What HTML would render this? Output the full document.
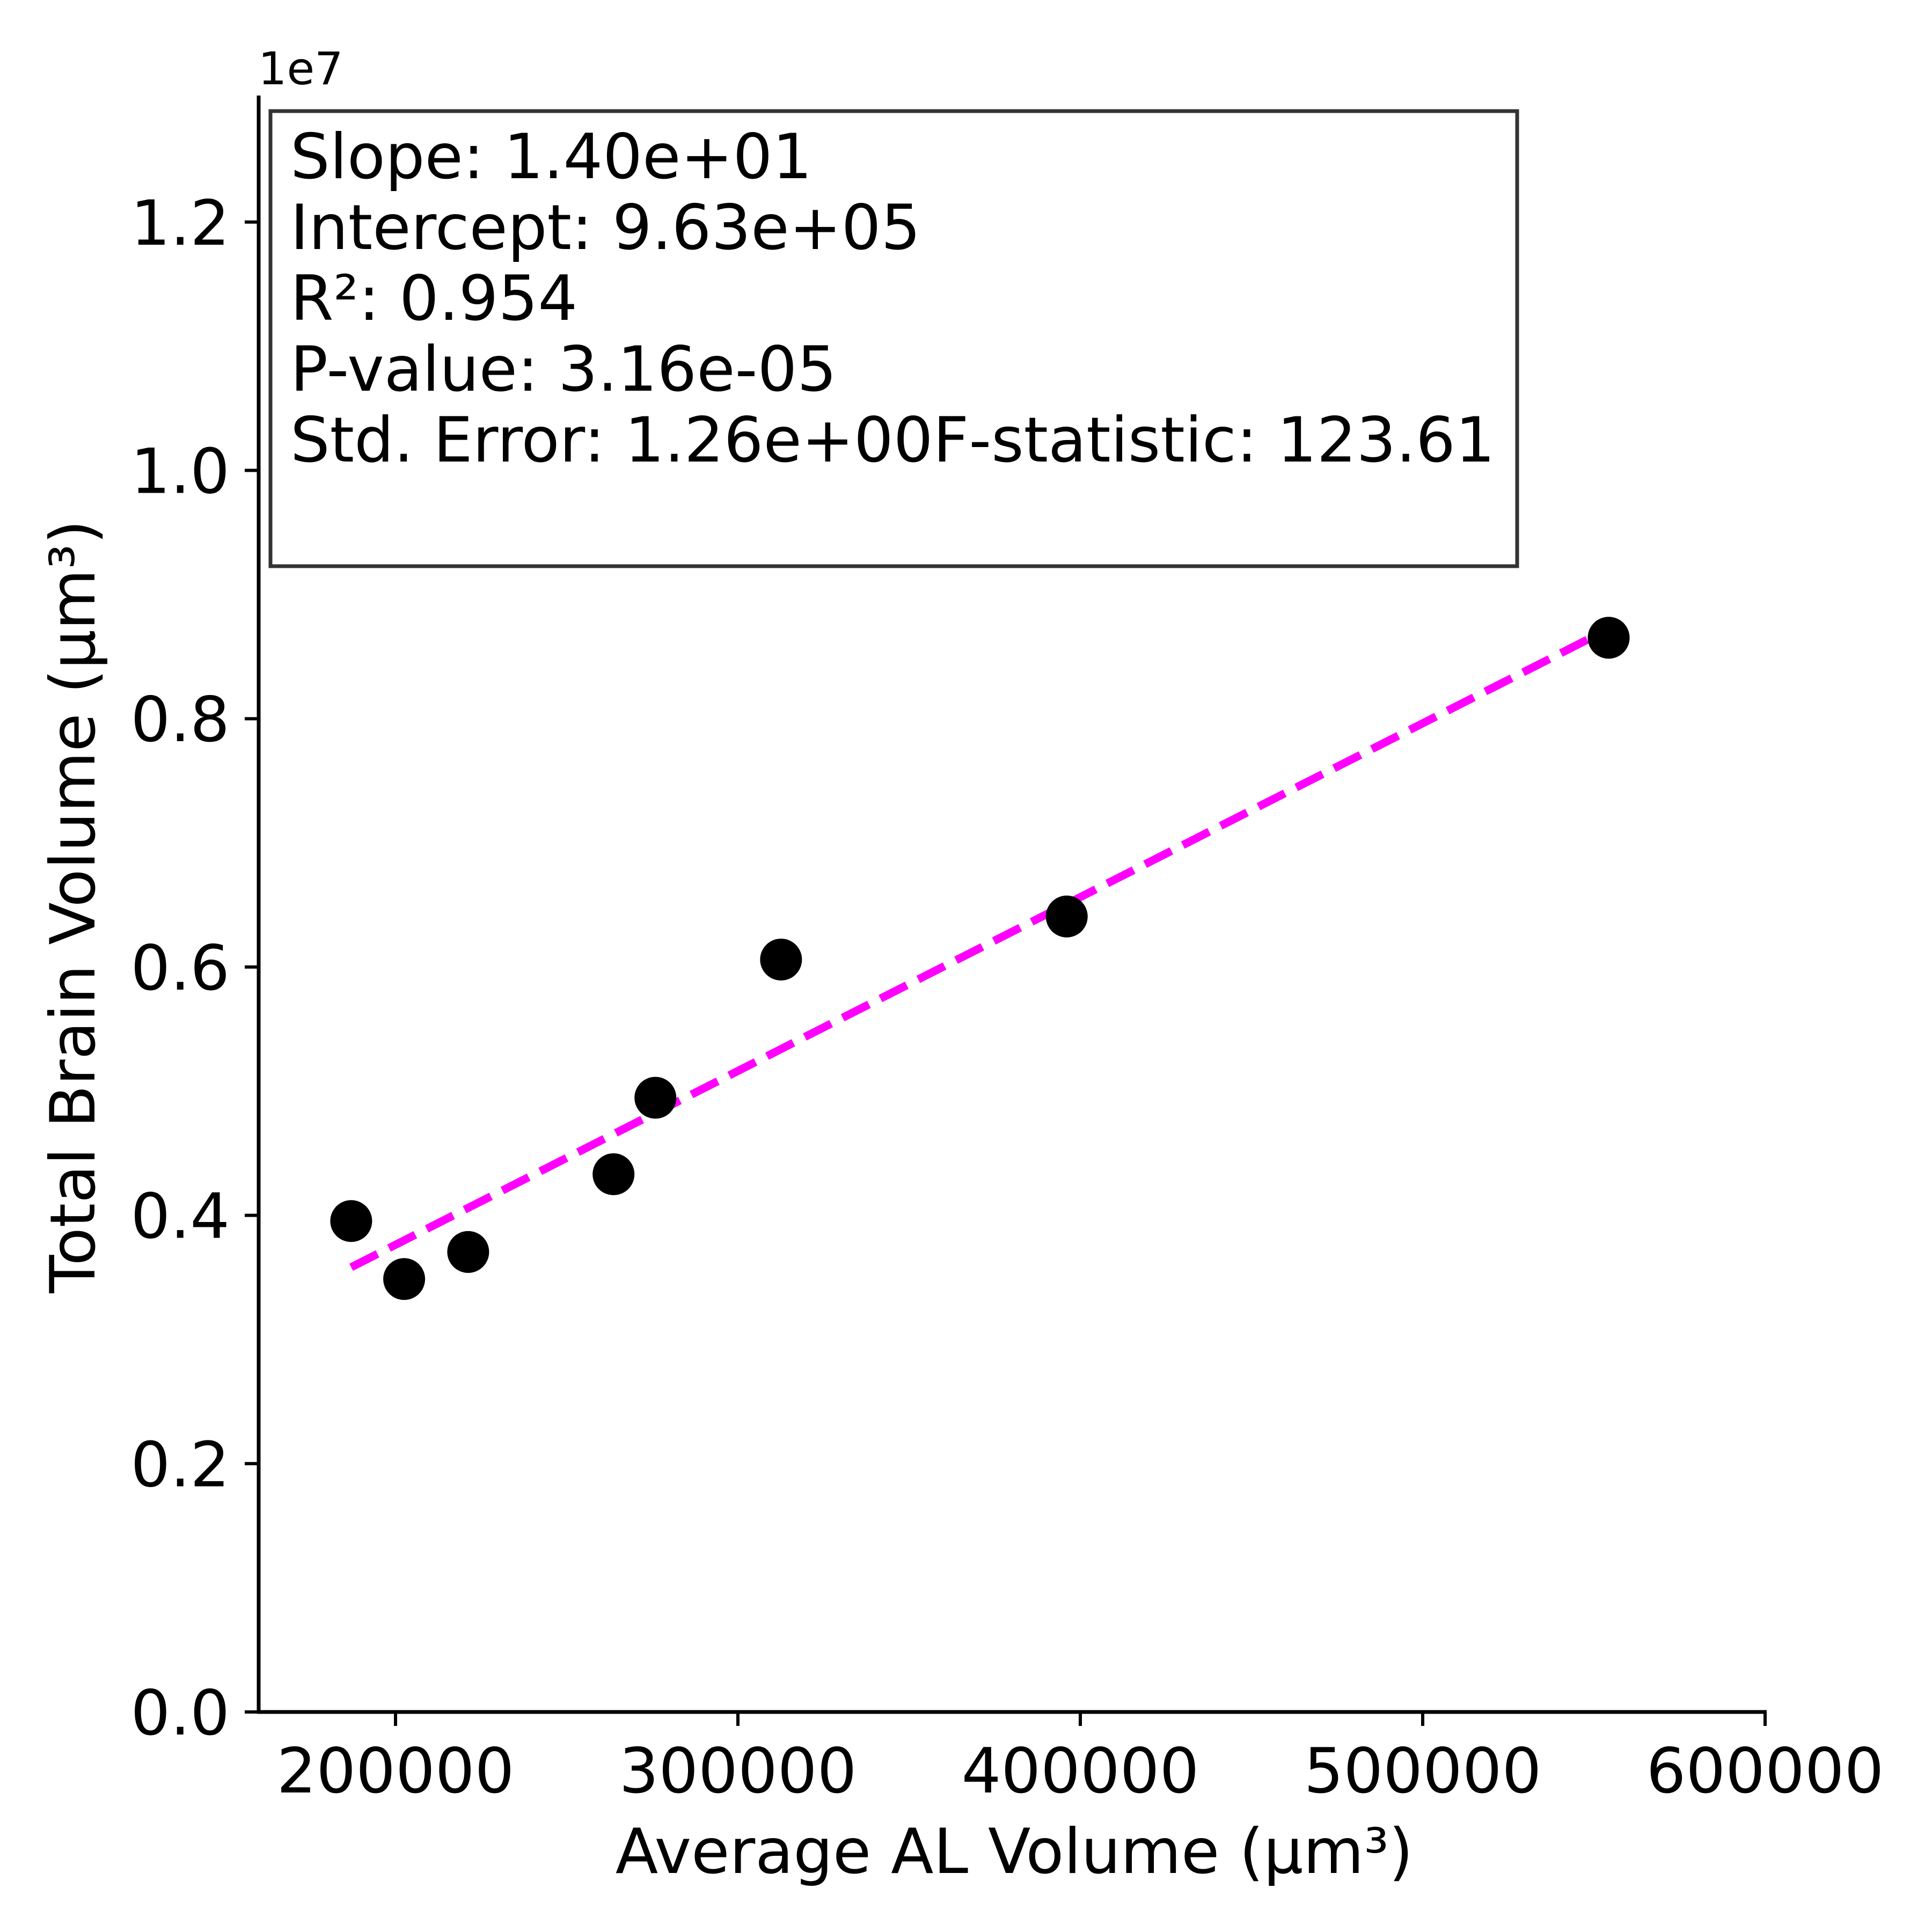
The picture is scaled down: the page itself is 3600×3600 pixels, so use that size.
<!DOCTYPE html>
<html><head><meta charset="utf-8"><style>
html,body{margin:0;padding:0;background:#fff}
svg{display:block}
text{font-family:"DejaVu Sans","Liberation Sans",sans-serif;fill:#000}
</style></head><body>
<svg id="chart" xmlns="http://www.w3.org/2000/svg" width="3600" height="3600" viewBox="0 0 3600 3600">
<rect width="3600" height="3600" fill="#fff"/>
<g id="marks"></g>
<g id="axes"></g>
<text x="481" y="157" font-size="84">1e7</text>
<rect x="504" y="207" width="2323" height="848" fill="#fff" stroke="#333" stroke-width="7"/>
<g font-size="116">
<text x="541" y="332">Slope: 1.40e+01</text>
<text x="541" y="464">Intercept: 9.63e+05</text>
<text x="541" y="596">R²: 0.954</text>
<text x="541" y="728">P-value: 3.16e-05</text>
<text x="541" y="860">Std. Error: 1.26e+00F-statistic: 123.61</text>
</g>
<text x="1890" y="3490" font-size="116" text-anchor="middle">Average AL Volume (µm³)</text>
<text transform="translate(176,1689) rotate(-90)" font-size="116" text-anchor="middle">Total Brain Volume (µm³)</text>
</svg>
<script>
const xValues = [187050, 202520, 221220, 263670, 275900, 312590, 396040, 554320];
const yValues = [3954000, 3487000, 3705000, 4331000, 4947000, 6060000, 6407000, 8652000];
const xTicks = [200000, 300000, 400000, 500000, 600000];
const xTickLabels = ["200000", "300000", "400000", "500000", "600000"];
const yTicks = [0, 2000000, 4000000, 6000000, 8000000, 10000000, 12000000];
const yTickLabels = ["0.0", "0.2", "0.4", "0.6", "0.8", "1.0", "1.2"];
const fitSlope = 14.0;
const fitIntercept = 963000;

const NS = "http://www.w3.org/2000/svg";
const X0 = 482, Y0 = 3190;
function sx(v){ return 737 + (v - 200000) * 638 / 100000; }
function sy(v){ return Y0 - v * 462.7 / 2000000; }
function mk(tag, attrs, parent){ const e = document.createElementNS(NS, tag); for (const k in attrs) e.setAttribute(k, attrs[k]); parent.appendChild(e); return e; }
const marks = document.getElementById('marks');
const axes = document.getElementById('axes');

const xmin = Math.min(...xValues), xmax = Math.max(...xValues);
const fl = mk('line', {x1: sx(xmin), y1: sy(fitSlope*xmin+fitIntercept), x2: sx(xmax), y2: sy(fitSlope*xmax+fitIntercept), stroke: '#ff00ff', 'stroke-width': 15, 'stroke-dasharray': '55 24'}, marks);


xValues.forEach((xv, i) => {
  const c = mk('circle', {cx: sx(xv), cy: sy(yValues[i]), r: 39, fill: '#000'}, marks);
  
  
});

const ya = mk('line', {x1: X0, y1: 178, x2: X0, y2: Y0 + 3, stroke: '#000', 'stroke-width': 7}, axes);


const xa = mk('line', {x1: X0 - 3, y1: Y0, x2: sx(600000) + 3, y2: Y0, stroke: '#000', 'stroke-width': 7}, axes);



xTicks.forEach((t, i) => {
  const x = sx(t);
  const tk = mk('line', {x1: x, y1: Y0, x2: x, y2: Y0 + 26, stroke: '#000', 'stroke-width': 6}, axes);
  
  
  const tx = mk('text', {x: x, y: 3340, 'font-size': 116, 'text-anchor': 'middle'}, axes);
  tx.textContent = xTickLabels[i];
  
  
});
yTicks.forEach((t, i) => {
  const y = sy(t);
  const tk = mk('line', {x1: X0, y1: y, x2: X0 - 26, y2: y, stroke: '#000', 'stroke-width': 6}, axes);
  
  
  const tx = mk('text', {x: 428, y: y + 42, 'font-size': 116, 'text-anchor': 'end'}, axes);
  tx.textContent = yTickLabels[i];
  
  
});
</script>
</body></html>
